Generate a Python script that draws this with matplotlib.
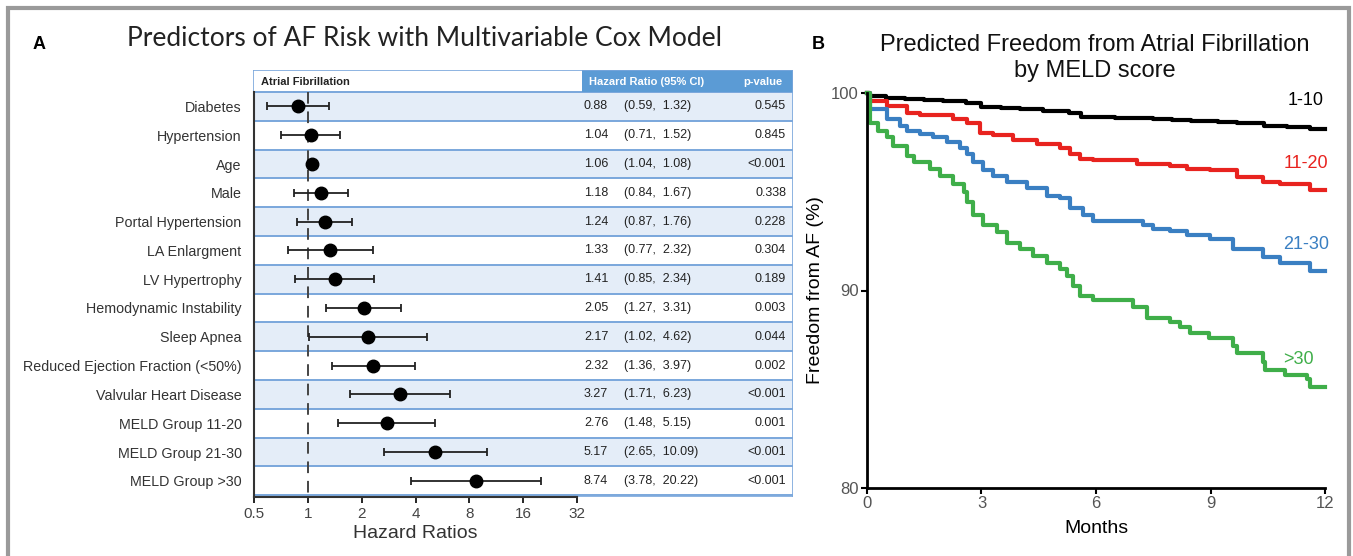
#!/usr/bin/env python3
"""Forest plot of AF predictors plus predicted AF-free curves by MELD group."""

import matplotlib

matplotlib.use("Agg")
import matplotlib.pyplot as plt
from matplotlib.patches import Rectangle
from matplotlib.ticker import FixedLocator, NullLocator

plt.rcParams["font.family"] = ["Liberation Sans", "DejaVu Sans"]

# ---- panel A data ----
predictors = [
    "Diabetes", "Hypertension", "Age", "Male", "Portal Hypertension",
    "LA Enlargment", "LV Hypertrophy", "Hemodynamic Instability", "Sleep Apnea",
    "Reduced Ejection Fraction (<50%)", "Valvular Heart Disease",
    "MELD Group 11-20", "MELD Group 21-30", "MELD Group >30",
]
hazard = [0.88, 1.04, 1.06, 1.18, 1.24, 1.33, 1.41, 2.05, 2.17, 2.32, 3.27, 2.76, 5.17, 8.74]
ci_low = [0.59, 0.71, 1.04, 0.84, 0.87, 0.77, 0.85, 1.27, 1.02, 1.36, 1.71, 1.48, 2.65, 3.78]
ci_high = [1.32, 1.52, 1.08, 1.67, 1.76, 2.32, 2.34, 3.31, 4.62, 3.97, 6.23, 5.15, 10.09, 20.22]
p_values = ["0.545", "0.845", "<0.001", "0.338", "0.228", "0.304", "0.189",
            "0.003", "0.044", "0.002", "<0.001", "0.001", "<0.001", "<0.001"]
hr_ticks = [0.5, 1, 2, 4, 8, 16, 32]
hr_tick_labels = ["0.5", "1", "2", "4", "8", "16", "32"]

# ---- panel B data (step curves) ----
months_1_10 = [0, 0.05, 0.5, 1.0, 1.5, 2.0, 2.6, 3.0, 3.5, 4.0, 4.6, 5.3, 5.6, 6.5, 7.5, 8.0,
               8.5, 9.2, 9.7, 10.4, 11.0, 11.6, 12]
free_1_10 = [100, 99.85, 99.75, 99.7, 99.65, 99.58, 99.5, 99.3, 99.25, 99.2, 99.1, 99.0, 98.8,
             98.75, 98.7, 98.65, 98.6, 98.55, 98.5, 98.35, 98.3, 98.2, 98.2]

months_11_20 = [0, 0.08, 0.52, 1.04, 1.39, 2.26, 2.61, 2.96, 3.31, 3.83, 4.45, 5.06, 5.32,
                5.58, 5.93, 7.07, 7.94, 8.38, 8.99, 9.69, 10.38, 10.82, 11.6, 12]
free_11_20 = [100, 99.6, 99.36, 99.0, 98.9, 98.7, 98.5, 98.0, 97.85, 97.6, 97.4, 97.2, 96.9,
              96.65, 96.6, 96.4, 96.3, 96.15, 96.1, 95.75, 95.5, 95.4, 95.1, 95.1]

months_21_30 = [0, 0.08, 0.52, 0.86, 1.04, 1.39, 1.74, 2.09, 2.44, 2.61, 2.79, 3.05, 3.31, 3.66,
                4.19, 4.71, 5.06, 5.32, 5.67, 5.93, 7.24, 7.5, 7.94, 8.38, 8.99, 9.6, 10.38,
                10.82, 11.6, 12]
free_21_30 = [100, 99.2, 98.7, 98.35, 98.1, 97.9, 97.75, 97.5, 97.2, 96.9, 96.5, 96.1, 95.8, 95.5,
              95.2, 94.8, 94.7, 94.2, 93.8, 93.5, 93.3, 93.1, 93.0, 92.8, 92.6, 92.1, 91.7,
              91.4, 91.0, 91.0]

months_gt30 = [0, 0.08, 0.3, 0.52, 0.69, 1.04, 1.22, 1.66, 1.92, 2.26, 2.53, 2.61, 2.79, 3.05,
               3.4, 3.66, 4.01, 4.36, 4.71, 5.06, 5.24, 5.41, 5.58, 5.93, 6.98, 7.33, 7.94,
               8.2, 8.47, 8.95, 9.6, 9.69, 10.38, 10.42, 10.95, 11.52, 11.6, 12]
free_gt30 = [100, 98.5, 98.1, 97.75, 97.3, 96.8, 96.5, 96.15, 95.8, 95.4, 94.97, 94.5, 93.8, 93.3,
             92.95, 92.4, 92.1, 91.76, 91.4, 91.1, 90.75, 90.25, 89.7, 89.5, 89.14, 88.63, 88.4,
             88.13, 87.85, 87.6, 87.17, 86.84, 86.4, 85.97, 85.7, 85.5, 85.1, 85.1]

group_names = ["1-10", "11-20", "21-30", ">30"]
group_colors = ["#000000", "#e8231f", "#3a7fc2", "#3fae49"]

W, H = 1353, 556
fig = plt.figure(figsize=(W / 100, H / 100), dpi=100)
fig.patch.set_facecolor("white")


def fx(px):
    return px / W


def fy(py):
    return 1 - py / H


# outer frame (open at bottom, the figure is cropped there)
fig.patches.append(Rectangle((fx(8), -0.05), fx(1349 - 8), fy(8) + 0.05, transform=fig.transFigure,
                             fill=False, edgecolor="#9a9a9a", linewidth=3))

# ---------------- panel A ----------------
row_px = 28.8
top_px, axis_px = 70, 497
y_top = -0.5 - 22 / row_px
y_bot = y_top + (axis_px - top_px) / row_px
box_bottom = 13.5 + 0.05

ax_tab = fig.add_axes([fx(253), fy(axis_px), fx(793 - 253), (axis_px - top_px) / H])
ax_tab.set_xlim(253, 793)
ax_tab.set_ylim(y_bot, y_top)
ax_tab.axis("off")

band = "#e4edf8"
line_blue = "#7aa7dc"
for i in range(len(predictors)):
    color = band if i % 2 == 0 else "white"
    ax_tab.add_patch(Rectangle((253, i - 0.5), 540, 1, facecolor=color, edgecolor="none", zorder=0))
    ax_tab.plot([253, 793], [i + 0.5, i + 0.5], color=line_blue, lw=1.4, zorder=1)
ax_tab.plot([253, 793], [-0.5, -0.5], color=line_blue, lw=1.4, zorder=1)
ax_tab.add_patch(Rectangle((582, y_top), 211, -0.5 - y_top, facecolor="#5b9bd5", edgecolor="none", zorder=1))
ax_tab.add_patch(Rectangle((253, y_top), 540, box_bottom - y_top, facecolor="none",
                           edgecolor=line_blue, lw=1.2, zorder=2))

hdr_y = (y_top - 0.5) / 2 + 0.05
ax_tab.text(261, hdr_y, "Atrial Fibrillation", fontsize=8, fontweight="bold", color="#222222",
            ha="left", va="center")
ax_tab.text(589, hdr_y, "Hazard Ratio (95% CI)", fontsize=8, fontweight="bold", color="white",
            ha="left", va="center")
ax_tab.text(782, hdr_y, "p-value", fontsize=8, fontweight="bold", color="white",
            ha="right", va="center")

for i in range(len(predictors)):
    ax_tab.text(584, i, "{:.2f}".format(hazard[i]), fontsize=9, color="#222222", va="center")
    ax_tab.text(624, i, "({:.2f},  {:.2f})".format(ci_low[i], ci_high[i]), fontsize=9,
                color="#222222", va="center")
    ax_tab.text(786, i, p_values[i], fontsize=9, color="#222222", va="center", ha="right")

ax = fig.add_axes([fx(254), fy(axis_px), fx(577 - 254), (axis_px - top_px) / H])
ax.patch.set_alpha(0)
ax.set_xscale("log", base=2)
ax.set_xlim(0.5, 32)
ax.set_ylim(y_bot, y_top)
ax.plot([1, 1], [-0.5, y_bot], color="#444444", lw=1.4, dashes=(6, 4), zorder=2)
ypos = list(range(len(predictors)))
xerr = [[h - lo for h, lo in zip(hazard, ci_low)], [hi - h for h, hi in zip(hazard, ci_high)]]
ax.errorbar(hazard, ypos, xerr=xerr, fmt="o", color="black", ms=9, ecolor="#222222",
            elinewidth=1.3, capsize=3, capthick=1.3, zorder=3)
ax.xaxis.set_major_locator(FixedLocator(hr_ticks))
ax.xaxis.set_minor_locator(NullLocator())
ax.set_xticklabels(hr_tick_labels)
ax.set_yticks(ypos)
ax.set_yticklabels(predictors)
ax.tick_params(axis="y", length=0, pad=9, labelsize=10.3, labelcolor="#333333")
ax.tick_params(axis="x", length=4, width=1.2, direction="out", labelsize=11,
               labelcolor="#444444", pad=3)
for side in ("top", "right"):
    ax.spines[side].set_visible(False)
ax.spines["left"].set_bounds(y_bot, -0.5)
ax.spines["left"].set_color("#333333")
ax.spines["left"].set_linewidth(1.5)
ax.spines["bottom"].set_color("#333333")
ax.spines["bottom"].set_linewidth(1.5)
ax.set_xlabel("Hazard Ratios", fontsize=14, color="#333333", labelpad=3)

fig.text(fx(425), fy(38), "Predictors of AF Risk with Multivariable Cox Model",
         fontsize=19, family="Lato", color="#222222", ha="center", va="center")
fig.text(fx(33), fy(45), "A", fontsize=13, fontweight="bold", ha="left", va="center")

# ---------------- panel B ----------------
axb = fig.add_axes([fx(867), fy(488), fx(1325 - 867), (488 - 93) / H])
curves = [(months_1_10, free_1_10), (months_11_20, free_11_20),
          (months_21_30, free_21_30), (months_gt30, free_gt30)]
for (t, v), color in zip(curves, group_colors):
    axb.step(t, v, where="post", color=color, lw=3, clip_on=False, zorder=3)
axb.set_xlim(0, 12)
axb.set_ylim(80, 100)
axb.set_xticks([0, 3, 6, 9, 12])
axb.set_yticks([80, 90, 100])
for side in ("top", "right"):
    axb.spines[side].set_visible(False)
for side in ("left", "bottom"):
    axb.spines[side].set_linewidth(2)
    axb.spines[side].set_zorder(4)
axb.tick_params(length=4, width=1.5, labelsize=12, labelcolor="#555555", pad=2)
axb.set_xlabel("Months", fontsize=14, labelpad=6)
axb.set_ylabel("Freedom from AF (%)", fontsize=14, labelpad=5)

label_pos = [(11.5, 99.6), (11.5, 96.45), (11.5, 92.35), (11.3, 86.5)]
for name, color, (lx, ly) in zip(group_names, group_colors, label_pos):
    axb.text(lx, ly, name, color=color, fontsize=13, ha="center", va="center")

fig.text(fx(1095), fy(58), "Predicted Freedom from Atrial Fibrillation\nby MELD score",
         fontsize=17, ha="center", va="center", linespacing=1.2, color="#111111")
fig.text(fx(812), fy(45), "B", fontsize=13, fontweight="bold", ha="left", va="center")

fig.savefig("out.png", dpi=100)
